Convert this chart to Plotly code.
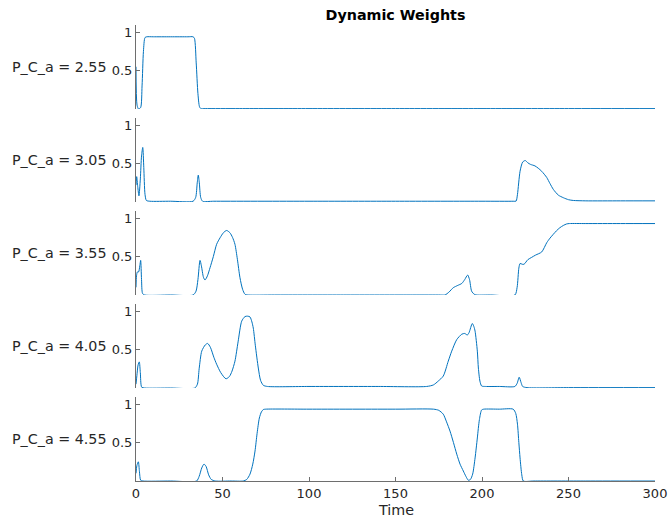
import plotly.graph_objects as go

# Dynamic weight traces for each P_C_a setting (time, weight)
labels = ["P_C_a = 2.55", "P_C_a = 3.05", "P_C_a = 3.55", "P_C_a = 4.05", "P_C_a = 4.55"]

t_255 = [0, 0.6, 1.5, 2.7, 3.5, 4.3, 5.2, 6.2, 10, 20, 30, 33, 33.8, 34.8, 35.8, 36.7, 37.5, 40, 60, 100, 150, 200, 250, 300]
w_255 = [0.55, 0.05, 0.0, 0.02, 0.3, 0.75, 0.93, 0.94, 0.94, 0.94, 0.94, 0.94, 0.92, 0.6, 0.2, 0.03, 0.005, 0.005, 0.005, 0.005, 0.005, 0.005, 0.005, 0.005]

t_305 = [0, 0.4, 1.0, 1.7, 2.5, 3.2, 3.9, 4.5, 5.2, 6, 8, 20, 33, 34.5, 35.4, 36, 36.6, 37.4, 38.5, 45, 100, 150, 200, 218, 219.7, 220.5, 222, 223.5, 225, 226.5, 228, 230.6, 232.5, 234.5, 237.4, 239.3, 241.2, 244.1, 247, 250, 252.8, 260, 280, 300]
w_305 = [0.22, 0.33, 0.2, 0.08, 0.3, 0.6, 0.71, 0.45, 0.1, 0.02, 0.01, 0.01, 0.01, 0.06, 0.25, 0.35, 0.25, 0.06, 0.01, 0.01, 0.01, 0.01, 0.01, 0.01, 0.012, 0.1, 0.4, 0.52, 0.54, 0.51, 0.49, 0.47, 0.44, 0.4, 0.32, 0.24, 0.165, 0.09, 0.056, 0.03, 0.02, 0.015, 0.015, 0.015]

t_355 = [0, 0.3, 0.8, 1.5, 2.2, 2.7, 3.2, 3.8, 5, 20, 33, 34.7, 35.8, 37, 37.8, 39, 39.9, 41.3, 42.8, 44.7, 46.6, 48.6, 50.5, 52.4, 54.3, 55.8, 57.2, 58.6, 60.1, 61.6, 63, 65, 80, 120, 160, 176, 178.6, 181, 183.4, 186, 188.3, 190, 191.7, 192.8, 194, 195.5, 197, 205, 219, 220.3, 221.3, 222, 223.3, 224.3, 226.5, 228.7, 231, 234.5, 237.4, 239.3, 241.2, 243, 245, 247, 248.9, 250.5, 260, 280, 300]
w_355 = [0.1, 0.25, 0.3, 0.3, 0.38, 0.45, 0.2, 0.02, 0.0, 0.0, 0.0, 0.05, 0.2, 0.45, 0.38, 0.23, 0.195, 0.25, 0.355, 0.5, 0.66, 0.745, 0.81, 0.84, 0.81, 0.75, 0.66, 0.465, 0.225, 0.075, 0.01, 0.0, 0.0, 0.0, 0.0, 0.0, 0.0, 0.04, 0.095, 0.125, 0.15, 0.2, 0.26, 0.2, 0.05, 0.01, 0.0, 0.0, 0.0, 0.1, 0.35, 0.41, 0.4, 0.4, 0.46, 0.49, 0.52, 0.56, 0.68, 0.74, 0.79, 0.835, 0.876, 0.905, 0.925, 0.93, 0.93, 0.93, 0.93]

t_405 = [0, 0.5, 1.2, 1.9, 2.5, 3.3, 5, 20, 34, 35.5, 36.5, 38, 40, 41.4, 43, 45, 46.6, 49, 52, 54, 55.5, 57.2, 59, 61.1, 63, 64.5, 65.9, 67, 67.8, 69, 70.7, 72, 73.6, 76, 100, 140, 168, 171.9, 174.7, 177.6, 180.5, 182.5, 185.4, 188.3, 190, 191.5, 192.5, 194.4, 195.3, 196, 197.3, 197.9, 198.8, 199.8, 202, 210, 219, 220.3, 221.5, 222.6, 223.5, 226, 250, 300]
w_405 = [0.05, 0.16, 0.3, 0.34, 0.2, 0.01, 0.0, 0.0, 0.0, 0.05, 0.25, 0.48, 0.56, 0.58, 0.53, 0.4, 0.31, 0.2, 0.12, 0.15, 0.22, 0.35, 0.6, 0.87, 0.93, 0.935, 0.925, 0.86, 0.78, 0.55, 0.26, 0.1, 0.035, 0.02, 0.02, 0.02, 0.02, 0.04, 0.09, 0.155, 0.35, 0.48, 0.63, 0.7, 0.71, 0.69, 0.72, 0.84, 0.8, 0.74, 0.48, 0.26, 0.09, 0.026, 0.02, 0.02, 0.02, 0.06, 0.14, 0.07, 0.02, 0.005, 0.005, 0.005]

t_455 = [0, 0.5, 1.35, 2, 2.7, 4, 20, 35, 36.5, 38, 39.3, 40.5, 42, 43.5, 46, 55, 62, 64, 65.9, 67.5, 68.8, 70, 71.3, 72.5, 73.6, 75, 100, 150, 172, 175, 177.6, 179.5, 181.5, 183.5, 185.4, 187.3, 189.2, 190.7, 192.1, 193.3, 194.6, 196, 197.3, 198.5, 199.8, 201, 210, 218, 219.5, 220.5, 221.3, 222, 223, 223.9, 230, 260, 300]
w_455 = [0.1, 0.2, 0.25, 0.12, 0.01, 0.0, 0.0, 0.0, 0.06, 0.17, 0.22, 0.19, 0.08, 0.02, 0.0, 0.0, 0.0, 0.02, 0.09, 0.22, 0.39, 0.62, 0.82, 0.9, 0.93, 0.935, 0.935, 0.935, 0.935, 0.92, 0.87, 0.77, 0.65, 0.5, 0.35, 0.22, 0.13, 0.06, 0.01, 0.02, 0.09, 0.3, 0.56, 0.8, 0.925, 0.935, 0.935, 0.935, 0.88, 0.74, 0.5, 0.3, 0.08, 0.0, 0.0, 0.0, 0.0]

series = [(t_255, w_255), (t_305, w_305), (t_355, w_355), (t_405, w_405), (t_455, w_455)]

x_ticks = [0, 50, 100, 150, 200, 250, 300]
y_ticks = [0.5, 1]
y_ticktext = ["0.5", "1"]

# Figure geometry (pixels)
W, H = 668, 520
ML, MR, MT, MB = 136, 13, 24, 39
plot_h = H - MT - MB
panel_h = 84.5
panel_step = 93
first_bottom = 109

LINE_BLUE = "#0072BD"
TEXT = "#262626"
AXIS = "#6e6e6e"
FONT = "DejaVu Sans"

fig = go.Figure()
layout = dict(
    width=W, height=H,
    margin=dict(l=ML, r=MR, t=MT, b=MB, autoexpand=False),
    paper_bgcolor="white", plot_bgcolor="white",
    showlegend=False,
    font=dict(family=FONT, size=13, color=TEXT),
)

annotations = []
for i, ((t, w), lab) in enumerate(zip(series, labels)):
    n = i + 1
    xa = "x" if n == 1 else f"x{n}"
    ya = "y" if n == 1 else f"y{n}"
    fig.add_trace(go.Scatter(
        x=t, y=w, mode="lines", xaxis=xa, yaxis=ya,
        line=dict(color=LINE_BLUE, width=1, shape="spline", smoothing=0.7),
        hoverinfo="skip",
    ))
    bottom_px = first_bottom + panel_step * i
    y0 = (H - MB - bottom_px) / plot_h
    y1 = y0 + panel_h / plot_h
    last = (n == 5)
    layout["xaxis" if n == 1 else f"xaxis{n}"] = dict(
        domain=[0, 1], range=[0, 300], anchor=ya,
        visible=last,
        showline=last, linecolor=AXIS, linewidth=1,
        ticks="inside", ticklen=4, tickcolor=AXIS, tickwidth=1,
        tickvals=x_ticks, showgrid=False, zeroline=False,
        tickfont=dict(family=FONT, size=13, color=TEXT),
    )
    layout["yaxis" if n == 1 else f"yaxis{n}"] = dict(
        domain=[y0, y1], range=[0, 1.1], anchor=xa,
        showline=True, linecolor=AXIS, linewidth=1,
        ticks="inside", ticklen=4, tickcolor=AXIS, tickwidth=1,
        tickvals=y_ticks, ticktext=y_ticktext,
        showgrid=False, zeroline=False,
        tickfont=dict(family=FONT, size=13, color=TEXT),
    )
    annotations.append(dict(
        text=lab, xref="paper", yref="paper",
        x=(108.5 - ML) / (W - ML - MR), y=(y0 + y1) / 2,
        xanchor="right", yanchor="middle", showarrow=False,
        font=dict(family=FONT, size=14.3, color=TEXT),
    ))

annotations.append(dict(
    text="Time", xref="paper", yref="paper",
    x=0.5, y=(H - MB - 510) / plot_h,
    xanchor="center", yanchor="middle", showarrow=False,
    font=dict(family=FONT, size=14.3, color=TEXT),
))

layout["annotations"] = annotations
layout["title"] = dict(
    text="<b>Dynamic Weights</b>",
    x=395.5 / W, xref="container", xanchor="center",
    y=1 - 15 / H, yref="container", yanchor="middle",
    font=dict(family=FONT, size=14.3, color="black"),
)

fig.update_layout(**layout)
fig.write_html("out.html")
